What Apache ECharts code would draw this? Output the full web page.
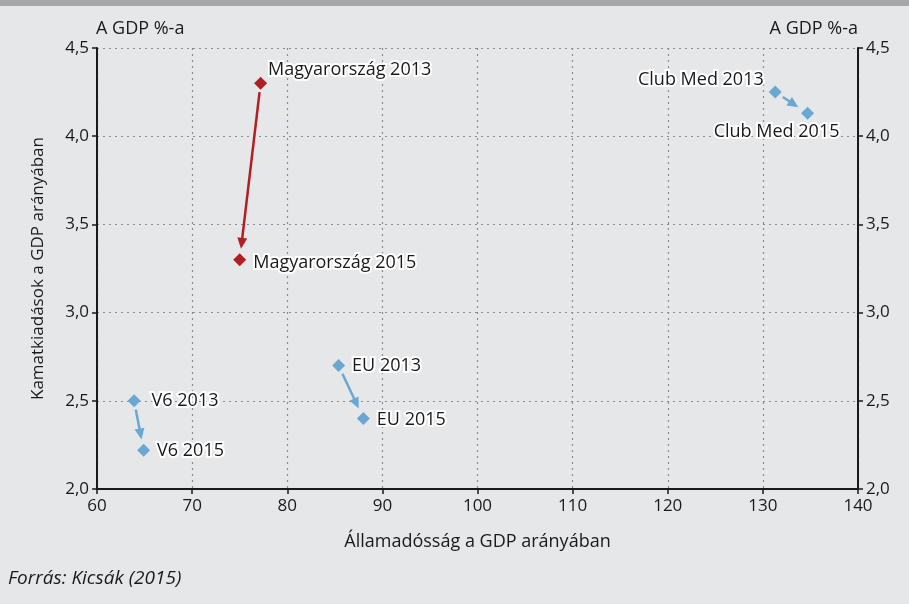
<!DOCTYPE html>
<html>
<head>
<meta charset="utf-8">
<script src="https://cdn.jsdelivr.net/npm/echarts@6/dist/echarts.min.js"></script>
<style>
  html, body { margin: 0; padding: 0; background: #e6e7e8; }
  #chart { width: 909px; height: 604px; }
</style>
</head>
<body>
<div id="chart"></div>
<script>
// Államadósság vs kamatkiadások, 2013 -> 2015

const pointNames = ['Magyarország 2013', 'Magyarország 2015', 'Club Med 2013', 'Club Med 2015',
                    'EU 2013', 'EU 2015', 'V6 2013', 'V6 2015'];
const debtRatio = [77.2, 75.0, 131.3, 134.7, 85.4, 88.0, 63.9, 64.9];
const interestRatio = [4.30, 3.30, 4.25, 4.13, 2.70, 2.40, 2.50, 2.22];
// from -> to (index into the arrays above)
const moves = [[0, 1], [2, 3], [4, 5], [6, 7]];
const xTicks = [60, 70, 80, 90, 100, 110, 120, 130, 140];
const yTicks = [2.0, 2.5, 3.0, 3.5, 4.0, 4.5];

const RED = '#b11f25';
const BLUE = '#6aa8d4';
const INK = '#1a1a1a';
const FONT = '"Open Sans", sans-serif';

// label placement per point
const labelPos = [
    { position: 'right', offset: [0, -13], distance: 1 },
    { position: 'right', offset: [0, 3], distance: 7 },
    { position: 'left', offset: [0, -12], distance: 5 },
    { position: 'bottom', offset: [-31, 0], distance: 3 },
    { position: 'right', offset: [0, 0], distance: 7 },
    { position: 'right', offset: [0, 1], distance: 7 },
    { position: 'right', offset: [0, 0], distance: 11 },
    { position: 'right', offset: [0, 1], distance: 7 }
];

const colorOf = i => (i < 2 ? RED : BLUE);

const scatterData = pointNames.map((n, i) => ({
    name: n,
    value: [debtRatio[i], interestRatio[i]],
    itemStyle: { color: colorOf(i), opacity: 1 },
    label: Object.assign({ show: true, formatter: n }, labelPos[i])
}));

const arrowData = moves.map(m => [debtRatio[m[0]], interestRatio[m[0]], debtRatio[m[1]], interestRatio[m[1]], m[0]]);

const chart = echarts.init(document.getElementById('chart'));

const fmt = v => v.toFixed(1).replace('.', ',');
const axisLineStyle = { show: true, lineStyle: { color: '#1a1a1a', width: 2 } };
const tickStyle = { show: true, length: 5, lineStyle: { color: '#1a1a1a', width: 1.5 } };
const gridStyle = { show: true, lineStyle: { color: '#8c8c8c', type: [2, 4], width: 1.2 } };

chart.setOption({
    backgroundColor: '#e6e7e8',
    animation: false,
    textStyle: { fontFamily: FONT },
    grid: { left: 97, right: 51, top: 48, bottom: 115 },
    xAxis: {
        type: 'value', min: xTicks[0], max: xTicks[xTicks.length - 1], interval: 10,
        name: 'Államadósság a GDP arányában', nameLocation: 'middle', nameGap: 44,
        nameTextStyle: { fontSize: 18, color: INK, fontFamily: FONT },
        axisLine: axisLineStyle,
        axisTick: tickStyle,
        axisLabel: { fontSize: 17, color: INK, margin: 9 },
        splitLine: gridStyle
    },
    yAxis: [{
        type: 'value', min: yTicks[0], max: yTicks[yTicks.length - 1], interval: 0.5,
        position: 'left',
        name: 'Kamatkiadások a GDP arányában', nameLocation: 'middle', nameGap: 50,
        nameTextStyle: { fontSize: 17, color: INK, fontFamily: FONT },
        axisLine: axisLineStyle,
        axisTick: tickStyle,
        axisLabel: { fontSize: 17, color: INK, margin: 8, formatter: fmt },
        splitLine: gridStyle
    }, {
        type: 'value', min: yTicks[0], max: yTicks[yTicks.length - 1], interval: 0.5,
        position: 'right',
        axisLine: axisLineStyle,
        axisTick: tickStyle,
        axisLabel: { fontSize: 17, color: INK, margin: 8, formatter: fmt },
        splitLine: { show: false }
    }],
    graphic: [
        { type: 'rect', left: 0, top: 0, shape: { width: 909, height: 6 }, style: { fill: '#a6a7a9' } },
        { type: 'text', left: 96, top: 20, style: { text: 'A GDP %-a', fontSize: 18, fill: INK, fontFamily: FONT } },
        { type: 'text', right: 51, top: 20, style: { text: 'A GDP %-a', fontSize: 18, fill: INK, fontFamily: FONT } },
        { type: 'text', left: 8, top: 569, style: { text: 'Forrás: Kicsák (2015)', fontSize: 19, fontStyle: 'italic', fill: INK, fontFamily: FONT } }
    ],
    series: [{
        type: 'custom',
        data: arrowData,
        z: 3,
        renderItem: function (params, api) {
            const p1 = api.coord([api.value(0), api.value(1)]);
            const p2 = api.coord([api.value(2), api.value(3)]);
            const col = colorOf(api.value(4));
            const dx = p2[0] - p1[0], dy = p2[1] - p1[1];
            const len = Math.sqrt(dx * dx + dy * dy);
            const ux = dx / len, uy = dy / len;
            const s = [p1[0] + ux * 9, p1[1] + uy * 9];
            const tip = [p2[0] - ux * 11, p2[1] - uy * 11];
            const headLen = 11, headW = 5;
            const base = [tip[0] - ux * headLen, tip[1] - uy * headLen];
            const nx = -uy, ny = ux;
            return {
                type: 'group',
                children: [{
                    type: 'line',
                    shape: { x1: s[0], y1: s[1], x2: base[0] + ux * 2, y2: base[1] + uy * 2 },
                    style: { stroke: col, lineWidth: 2.5 }
                }, {
                    type: 'polygon',
                    shape: { points: [tip, [base[0] + nx * headW, base[1] + ny * headW], [base[0] - nx * headW, base[1] - ny * headW]] },
                    style: { fill: col }
                }]
            };
        }
    }, {
        type: 'scatter',
        symbol: 'diamond',
        symbolSize: 13,
        z: 4,
        itemStyle: { opacity: 1 },
        label: {
            fontSize: 18, color: INK, fontFamily: FONT,
            textBorderColor: '#ffffff', textBorderWidth: 4
        },
        data: scatterData
    }]
});
</script>
</body>
</html>
